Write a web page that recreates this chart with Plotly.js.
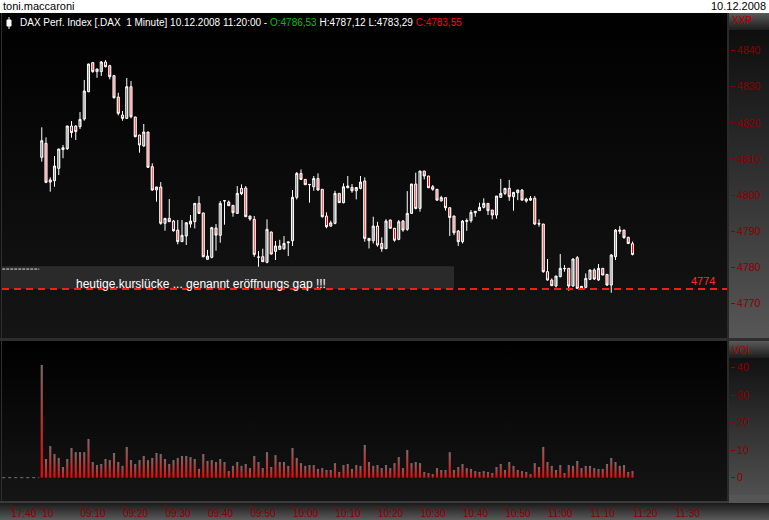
<!DOCTYPE html>
<html><head><meta charset="utf-8">
<script src="https://cdn.plot.ly/plotly-3.0.1.min.js"></script>
<style>
html,body{margin:0;padding:0;background:#000;width:769px;height:520px;overflow:hidden;}
.bg{position:absolute;}
#chart{position:absolute;left:0;top:0;width:769px;height:520px;}
</style></head><body>
<div class="bg" style="left:0;top:0;width:769px;height:13px;background:#fff"></div>
<div class="bg" style="left:0;top:13px;width:727px;height:325px;background:linear-gradient(#000,#151515)"></div>
<div class="bg" style="left:0;top:338px;width:769px;height:3px;background:#2e2e2e"></div>
<div class="bg" style="left:0;top:341px;width:727px;height:160px;background:linear-gradient(#000,#151515)"></div>
<div class="bg" style="left:1px;top:13px;width:1px;height:488px;background:#2e2e2e"></div>
<div class="bg" style="left:727px;top:13px;width:2px;height:490px;background:#2a2a2a"></div>
<div class="bg" style="left:729px;top:13px;width:40px;height:17px;background:linear-gradient(#5a5a5a,#1c1c1c)"></div>
<div class="bg" style="left:729px;top:30px;width:40px;height:308px;background:linear-gradient(#0e0e0e,#575757)"></div>
<div class="bg" style="left:729px;top:341px;width:40px;height:17px;background:linear-gradient(#5a5a5a,#1c1c1c)"></div>
<div class="bg" style="left:729px;top:358px;width:40px;height:137px;background:linear-gradient(#111,#505050)"></div>
<div class="bg" style="left:0;top:501px;width:729px;height:2px;background:#3a3a3a"></div>
<div class="bg" style="left:0;top:503px;width:769px;height:17px;background:linear-gradient(#1a1a1a,#5a5a5a)"></div>
<div class="bg" style="left:729px;top:495px;width:40px;height:8px;background:#555"></div>
<div id="chart"></div>
<script>
// minutes after 09:00 on 10.12.2008 (1 = 09:01 ... 140 = 11:20)
const minutes = [1,2,3,4,5,6,7,8,9,10,11,12,13,14,15,16,17,18,19,20,
21,22,23,24,25,26,27,28,29,30,31,32,33,34,35,36,37,38,39,40,
41,42,43,44,45,46,47,48,49,50,51,52,53,54,55,56,57,58,59,60,
61,62,63,64,65,66,67,68,69,70,71,72,73,74,75,76,77,78,79,80,
81,82,83,84,85,86,87,88,89,90,91,92,93,94,95,96,97,98,99,100,
101,102,103,104,105,106,107,108,109,110,111,112,113,114,115,116,117,118,119,120,
121,122,123,124,125,126,127,128,129,130,131,132,133,134,135,136,137,138,139,140];

const openP = [4810.46,4814.34,4803.6,4803.98,4807.4,4812.6,4812.85,4819.14,4819.1,4818.95,
4821.07,4828.65,4836.68,4834.19,4834.19,4836.87,4835.85,4833.08,4827.17,4822.18,
4821.26,4830.03,4821.63,4816.64,4813.59,4817.47,4807.87,4801.4,4802.24,4792.17,
4793.55,4792.8,4790.3,4787.1,4788.66,4791.98,4792.63,4797.7,4795.03,4782.2,
4782.75,4790.87,4788.85,4798.45,4798.07,4797.15,4794.93,4801.86,4801.95,4794.2,
4793.27,4782.84,4782.93,4781.36,4789.76,4784.4,4784.96,4785.14,4786.8,4787.36,
4799.37,4806.0,4804.35,4802.87,4802.3,4804.6,4801.6,4794.2,4791.4,4792.16,
4800.47,4797.9,4802.04,4802.13,4801.2,4801.86,4803.9,4788.0,4787.36,4791.4,
4786.6,4785.14,4793.1,4790.8,4787.73,4792.8,4790.5,4794.93,4803.06,4796.3,
4806.66,4805.28,4802.3,4801.6,4798.4,4799.27,4796.5,4794.2,4790.03,4787.08,
4792.7,4792.9,4795.1,4795.7,4796.6,4797.7,4795.85,4794.47,4799.37,4800.47,
4801.86,4799.55,4800.66,4801.4,4798.9,4798.6,4799.1,4792.16,4791.98,4778.77,
4776.46,4774.8,4777.4,4779.7,4779.7,4774.8,4782.65,4774.24,4774.43,4776.65,
4779.24,4776.46,4779.7,4778.03,4775.07,4782.93,4789.95,4790.3,4788.28,4786.53];

const highP = [4818.77,4815.99,4804.9,4810.8,4812.8,4813.9,4819.2,4820.5,4819.4,4823.0,
4831.9,4836.4,4836.9,4835.0,4837.15,4837.4,4836.1,4833.3,4828.37,4823.3,
4832.43,4831.6,4821.7,4816.7,4819.69,4817.5,4808.8,4802.3,4803.6,4793.6,
4798.9,4793.1,4793.1,4793.1,4792.4,4794.47,4797.75,4799.7,4795.1,4784.8,
4791.2,4791.98,4798.35,4798.55,4798.5,4797.2,4802.5,4802.97,4802.5,4794.25,
4794.2,4784.5,4785.14,4793.27,4789.9,4787.3,4787.6,4788.65,4787.08,4801.4,
4806.4,4807.1,4804.4,4803.06,4805.28,4806.0,4801.65,4795.2,4792.9,4801.2,
4800.5,4803.25,4805.28,4803.06,4802.15,4805.28,4804.9,4788.05,4794.0,4792.6,
4788.3,4793.3,4793.15,4790.85,4793.1,4793.1,4801.1,4803.1,4806.2,4806.7,
4806.7,4805.3,4802.8,4801.65,4799.8,4799.3,4796.55,4794.25,4790.3,4793.1,
4793.5,4795.85,4795.6,4797.9,4799.1,4797.75,4795.9,4799.75,4804.44,4801.9,
4804.2,4800.8,4801.45,4801.67,4799.27,4799.73,4799.73,4793.27,4792.0,4782.3,
4776.9,4777.6,4783.67,4780.6,4779.75,4782.46,4783.1,4774.8,4778.3,4779.3,
4779.7,4780.9,4779.75,4778.1,4783.66,4790.6,4791.4,4790.35,4788.47,4787.12];

const lowP = [4809.26,4803.3,4800.95,4802.3,4805.55,4810.2,4812.5,4815.9,4815.25,4818.3,
4820.6,4828.5,4833.9,4832.5,4832.99,4835.4,4832.06,4826.7,4822.1,4820.6,
4821.07,4821.26,4816.0,4811.75,4813.4,4807.5,4801.2,4798.17,4791.8,4790.13,
4792.6,4789.86,4786.35,4787.0,4786.16,4790.97,4790.78,4794.75,4782.75,4782.1,
4782.47,4784.6,4786.8,4791.8,4797.0,4794.0,4794.9,4800.0,4794.0,4792.9,
4782.9,4780.15,4781.5,4781.1,4783.5,4782.0,4784.8,4784.8,4783.1,4785.9,
4798.8,4804.2,4802.8,4797.9,4801.2,4801.2,4793.8,4790.8,4791.24,4791.9,
4797.85,4797.7,4801.86,4800.66,4798.8,4801.6,4787.08,4785.2,4786.6,4785.7,
4784.3,4785.1,4790.75,4787.1,4787.5,4789.85,4790.1,4794.75,4796.04,4795.4,
4804.35,4802.0,4801.2,4798.4,4798.2,4795.7,4788.65,4788.9,4785.9,4786.6,
4790.1,4792.35,4794.0,4795.65,4796.3,4794.47,4793.27,4793.45,4799.3,4800.0,
4798.4,4795.67,4798.6,4798.55,4797.9,4798.4,4791.7,4791.24,4778.5,4776.3,
4774.8,4774.43,4777.2,4778.77,4773.5,4774.6,4774.1,4773.87,4774.15,4776.46,
4776.46,4776.27,4777.8,4774.8,4772.95,4782.0,4789.2,4787.9,4786.4,4783.29];

const closeP = [4815.07,4803.53,4804.2,4808.05,4812.77,4813.13,4819.14,4817.3,4817.6,4820.98,
4828.83,4836.31,4834.19,4834.93,4836.87,4835.57,4832.8,4826.98,4822.64,4821.26,
4830.03,4821.72,4816.18,4813.87,4817.47,4807.69,4801.4,4802.24,4792.17,4793.55,
4792.63,4790.13,4787.1,4788.85,4792.35,4792.8,4797.7,4794.93,4782.93,4783.1,
4790.97,4788.9,4797.7,4798.4,4797.06,4795.12,4800.48,4800.38,4794.0,4793.36,
4783.57,4782.8,4781.54,4790.5,4783.66,4785.9,4785.9,4786.6,4787.0,4799.37,
4806.0,4804.35,4802.87,4802.95,4804.6,4801.4,4794.0,4791.24,4792.3,4800.47,
4797.9,4802.3,4802.5,4801.2,4802.1,4803.6,4788.0,4787.36,4791.4,4786.16,
4785.14,4792.8,4790.8,4787.5,4792.6,4790.3,4794.93,4803.06,4796.3,4806.66,
4805.28,4802.04,4801.6,4798.6,4799.3,4796.5,4793.8,4789.57,4787.08,4792.8,
4792.95,4795.2,4795.5,4796.6,4797.7,4795.67,4794.47,4799.73,4800.47,4801.86,
4799.55,4800.75,4801.4,4798.6,4798.35,4799.1,4791.98,4791.98,4778.77,4776.46,
4774.9,4777.57,4779.7,4779.6,4774.8,4782.28,4774.15,4774.7,4776.92,4779.24,
4776.74,4779.7,4777.85,4775.07,4783.38,4790.3,4790.3,4788.2,4786.6,4783.55];

// volume in thousands (T)
const volumeT = [41.0,6.8,11.5,8.6,7.2,3.9,6.8,10.8,9.3,9.3,
9.3,14.1,5.7,4.6,5.0,6.8,6.4,9.0,5.7,4.3,
11.2,6.4,5.0,6.4,7.9,6.4,7.2,9.0,8.6,6.8,
5.0,6.4,7.2,7.9,7.9,7.5,6.8,3.2,8.6,6.1,
6.4,5.7,6.8,5.7,2.4,4.3,5.7,4.3,5.0,3.5,
7.9,5.7,3.5,9.3,3.9,8.2,5.7,5.7,4.3,10.8,
7.2,5.3,4.3,4.6,4.6,3.2,3.5,2.8,2.8,5.3,
2.1,4.6,5.0,3.2,4.6,4.3,11.9,5.7,4.3,4.6,
3.5,4.6,3.5,5.3,7.5,3.5,10.1,5.3,5.7,5.3,
2.1,1.7,1.3,3.5,2.8,2.8,9.3,2.8,3.9,5.0,
3.5,3.2,2.4,2.1,2.4,2.1,1.7,3.9,5.0,2.8,
5.7,4.3,2.8,2.4,2.1,1.3,5.3,3.9,11.2,5.7,
4.3,2.8,4.6,1.7,4.6,4.3,6.1,3.5,4.3,4.3,
3.5,3.2,3.2,5.0,7.2,5.7,4.3,4.6,2.1,2.4];

// previous day's tail (flat dashes) before the session start
const prevDayMinutes = [-8.3, 0.4];
const prevDayClose = [4779.5, 4779.5];
const prevDayVolume = [0, 0];

const gapLevel = 4774;
const gapNote = 'heutige.kurslücke ... genannt eröffnungs gap !!!';

const xTickMinutes = [-6.3,1,10,20,30,40,50,60,70,80,90,100,110,120,130,140,150];
const xTickLabels = ['17:40','10','09:10','09:20','09:30','09:40','09:50','10:00','10:10','10:20','10:30','10:40','10:50','11:00','11:10','11:20','11:30'];
const priceTicks = [4770,4780,4790,4800,4810,4820,4830,4840];
const volTicks = [0,10,20,30,40];

const W = 769, H = 520;
const px = v => v / W;
const py = v => 1 - v / H;
const FONT = 'Liberation Sans, Arial, sans-serif';
const AXC = '#8b0000';
const fmt = v => v.toFixed(2).replace('.', ',');
const n = minutes.length - 1;

const title = 'DAX Perf. Index [.DAX\u00a0\u00a01 Minute] 10.12.2008 11:20:00 - ' +
  '<span style="color:#00c000">O:' + fmt(openP[n]) + '</span> H:' + fmt(highP[n]) +
  ' L:' + fmt(lowP[n]) + ' <span style="color:#ff0000">C:' + fmt(closeP[n]) + '</span>';

const data = [
  {type:'candlestick', x:minutes, open:openP, high:highP, low:lowP, close:closeP,
   xaxis:'x', yaxis:'y', whiskerwidth:0,
   increasing:{line:{color:'#ffffff', width:1}, fillcolor:'#909090'},
   decreasing:{line:{color:'#ffffff', width:1}, fillcolor:'#e01010'},
   hoverinfo:'skip'},
  {type:'scatter', mode:'lines', x:prevDayMinutes, y:prevDayClose, xaxis:'x', yaxis:'y',
   line:{color:'#dddddd', width:1, dash:'3px,1px'}, hoverinfo:'skip'},
  {type:'bar', x:minutes, y:volumeT, xaxis:'x', yaxis:'y2', width:0.5,
   marker:{color:'#c01818', line:{width:0}}, hoverinfo:'skip'},
  {type:'scatter', mode:'lines', x:prevDayMinutes, y:prevDayVolume, xaxis:'x', yaxis:'y2',
   line:{color:'#777777', width:1, dash:'3px,3px'}, hoverinfo:'skip'}
];

const layout = {
  width:W, height:H, margin:{l:0, r:0, t:0, b:0},
  paper_bgcolor:'rgba(0,0,0,0)', plot_bgcolor:'rgba(0,0,0,0)',
  showlegend:false, font:{family:FONT},
  xaxis:{domain:[px(2), px(727)], range:[-8.353, 162.235], anchor:'free', position:(H-504)/H,
    tickmode:'array', tickvals:xTickMinutes, ticktext:xTickLabels,
    ticks:'outside', ticklen:4, tickwidth:1, tickcolor:AXC, ticklabelposition:'outside right',
    tickfont:{family:FONT, size:10, color:AXC},
    showgrid:false, zeroline:false, showline:false, rangeslider:{visible:false}, fixedrange:true},
  yaxis:{domain:[(H-338)/H, (H-13)/H], range:[4760.4, 4850.45], anchor:'free', position:px(730), side:'right',
    tickmode:'array', tickvals:priceTicks, ticks:'outside', ticklen:4, tickwidth:1, tickcolor:AXC,
    tickfont:{family:FONT, size:10.5, color:AXC},
    showgrid:false, zeroline:false, showline:false, fixedrange:true},
  yaxis2:{domain:[(H-503)/H, (H-341)/H], range:[-9.2, 49.71], anchor:'free', position:px(730), side:'right',
    tickmode:'array', tickvals:volTicks, ticksuffix:' T', ticks:'outside', ticklen:4, tickwidth:1, tickcolor:AXC,
    tickfont:{family:FONT, size:10.5, color:AXC},
    showgrid:false, zeroline:false, showline:false, fixedrange:true},
  shapes:[
    {type:'rect', layer:'below', xref:'paper', yref:'y', x0:px(2), x1:px(454), y0:gapLevel, y1:4780.3,
     fillcolor:'#2a2a2a', line:{width:0}},
    {type:'line', xref:'paper', yref:'y', x0:px(2), x1:px(727), y0:gapLevel, y1:gapLevel,
     line:{color:'#ff1a1a', width:2, dash:'7px,5px'}},
    {type:'line', xref:'paper', yref:'paper', x0:px(9), x1:px(9), y0:py(17), y1:py(29),
     line:{color:'#ffffff', width:1}},
    {type:'rect', xref:'paper', yref:'paper', x0:px(7), x1:px(11), y0:py(20), y1:py(26),
     fillcolor:'#ffffff', line:{color:'#ffffff', width:1}}
  ],
  annotations:[
    {xref:'paper', yref:'paper', x:px(1), y:py(6.5), xanchor:'left', yanchor:'middle', showarrow:false,
     text:'toni.maccaroni', font:{family:FONT, size:11, color:'#000'}},
    {xref:'paper', yref:'paper', x:px(768), y:py(6.5), xanchor:'right', yanchor:'middle', showarrow:false,
     text:'10.12.2008', font:{family:FONT, size:11, color:'#000'}},
    {xref:'paper', yref:'paper', x:px(18), y:py(23), xanchor:'left', yanchor:'middle', showarrow:false,
     text:title, font:{family:FONT, size:10, color:'#ffffff'}},
    {xref:'paper', yref:'paper', x:px(730), y:py(21), xanchor:'left', yanchor:'middle', showarrow:false,
     text:'XXP', font:{family:FONT, size:10, color:'#b00000'}},
    {xref:'paper', yref:'paper', x:px(730), y:py(350), xanchor:'left', yanchor:'middle', showarrow:false,
     text:'VOL', font:{family:FONT, size:10, color:'#b00000'}},
    {xref:'paper', yref:'paper', x:px(689), y:py(280.5), xanchor:'left', yanchor:'middle', showarrow:false,
     text:String(gapLevel), font:{family:FONT, size:11, color:'#ff2a2a'}},
    {xref:'paper', yref:'paper', x:px(201), y:py(284), xanchor:'center', yanchor:'middle', showarrow:false,
     text:gapNote, font:{family:FONT, size:12, color:'#ffffff'}}
  ]
};

Plotly.newPlot('chart', data, layout, {staticPlot:true, displayModeBar:false}).then(function(gd){
  const ns = 'http://www.w3.org/2000/svg';
  const svg = gd.querySelector('svg.main-svg');
  const defs = svg.querySelector('defs');
  function grad(id, horizontal, stops){
    const g = document.createElementNS(ns, 'linearGradient');
    g.setAttribute('id', id);
    g.setAttribute('x1','0'); g.setAttribute('y1','0');
    g.setAttribute('x2', horizontal ? '1' : '0'); g.setAttribute('y2', horizontal ? '0' : '1');
    stops.forEach(function(s){
      const st = document.createElementNS(ns, 'stop');
      st.setAttribute('offset', s[0]); st.setAttribute('stop-color', s[1]);
      g.appendChild(st);
    });
    defs.appendChild(g);
  }
  grad('volGrad', false, [['0','#7a6a6a'],['1','#ff0000']]);
  grad('upGrad', true, [['0','#2a2a2a'],['1','#ffffff']]);
  grad('dnGrad', true, [['0','#ffffff'],['0.5','#ff0000'],['1','#ffffff']]);
  gd.querySelectorAll('.barlayer .point path').forEach(function(p){ p.style.fill = 'url(#volGrad)'; });
  gd.querySelectorAll('.boxlayer path.box').forEach(function(p){
    const d = p.__data__;
    if (d && d.dir === 'increasing') p.style.fill = 'url(#upGrad)';
    else if (d && d.dir === 'decreasing') p.style.fill = 'url(#dnGrad)';
  });
});
</script>
</body></html>
